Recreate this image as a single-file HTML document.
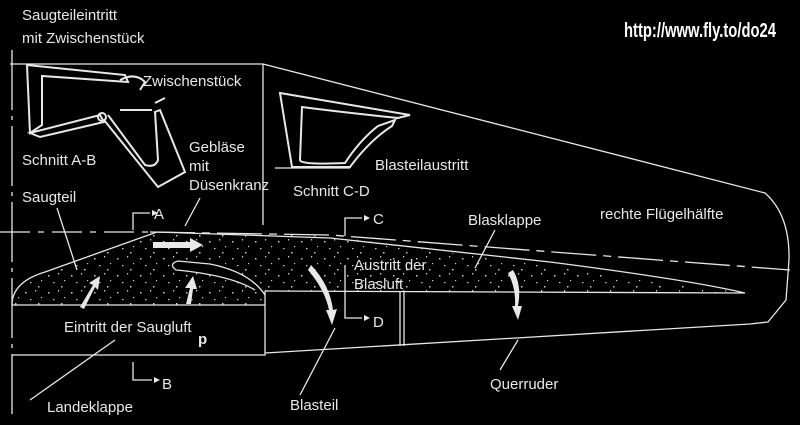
<!DOCTYPE html>
<html><head><meta charset="utf-8"><style>
html,body{margin:0;padding:0;background:#000;width:800px;height:425px;overflow:hidden}
svg{display:block}
text{font-family:"Liberation Sans",sans-serif;fill:#e8e8e8;font-size:15px}
</style></head><body>
<svg width="800" height="425" viewBox="0 0 800 425" xmlns="http://www.w3.org/2000/svg">
<defs>
<pattern id="sp" width="23" height="17" patternUnits="userSpaceOnUse">
<rect x="2" y="3" width="1.5" height="1.5" fill="#ccc"/><rect x="12" y="1" width="1.2" height="1.5" fill="#ccc"/>
<rect x="7" y="10" width="1.5" height="1.2" fill="#ccc"/><rect x="18" y="8" width="1.2" height="1.2" fill="#ccc"/>
<rect x="15" y="14" width="1.5" height="1.5" fill="#ccc"/>
</pattern>
</defs>
<g stroke="#e8e8e8" fill="none" stroke-width="1.3">
<line x1="12" y1="50" x2="12" y2="420" stroke-dasharray="60 6 4 6"/>
<line x1="10" y1="64" x2="263" y2="64"/>
<line x1="263" y1="64" x2="263" y2="225"/>
<path d="M263 64 L765 193 Q790 215 789 260 L786 300 L768 322 L750 324 L265 353"/>
<path d="M0 232 L150 232" stroke-dasharray="30 8 6 8"/>
<path d="M150 232 L330 235 L790 270" stroke-dasharray="45 7 8 7"/>
<path d="M12 305 Q12 282 45 272 L157 232 L330 236 L745 293 L265 291 L265 305 Z" fill="url(#sp)" stroke="none"/>
<path d="M12 305 Q12 282 45 272 L157 232"/>
<path d="M157 232 L330 238 L550 262 Q690 280 745 293 L265 291"/>
<path d="M12 305 L265 305"/>
<path d="M265 295 Q250 272 210 264 L178 261 Q168 264 176 270 Q230 275 255 290" fill="#000"/>
<path d="M12 355 L265 355 L265 291"/>
<line x1="400" y1="291" x2="400" y2="346"/>
<line x1="404" y1="291" x2="404" y2="346"/>
<g stroke-width="2">
<path d="M27 65 L125 75 L128 82 L42 76 L42 125 L30 133 Z"/>
<path d="M30 133 L100 115 L104 122 L40 137 Z"/>
<circle cx="102" cy="117" r="4"/>
<path d="M104 120 L158 187 L185 172 L160 110 L155 112 L158 160 Q155 168 145 165 L108 115"/>
<path d="M120 80 Q135 72 145 82 L140 90 M155 103 L165 98 M120 110 L152 110"/>
</g>
<g stroke-width="2">
<path d="M280 93 L410 115 L398 118 Q340 112 302 107 L300 160 Q300 165 345 163 Q360 140 378 126 L395 120 L392 126 Q370 140 350 167 L292 167 Z"/>
</g>
<line x1="275" y1="168" x2="350" y2="168"/>
<path d="M57 208 L77 270 M200 198 L185 226 M115 340 L30 400 M335 328 L300 395 M475 268 L495 230 M518 340 L500 370"/>
<path d="M133 230 L133 213 L150 213 M345 236 L345 218 L362 218 M345 265 L345 318 L362 318 M133 362 L133 380 L152 380"/>
</g>
<g fill="#e8e8e8">
<path d="M152 210 L158 213 L152 216Z M364 215 L370 218 L364 221Z M364 315 L370 318 L364 321Z M154 377 L160 380 L154 383Z"/>
<path d="M153 242 L190 242 L190 238 L203 245 L190 252 L190 248 L153 248Z"/>
<path d="M80 307 L93 285 L89 283 L100 276 L98 290 L95 287 L84 309Z"/>
<path d="M186 304 L190 288 L185 288 L193 276 L197 289 L193 289 L191 304Z"/>
<path d="M311 265 Q330 285 333 310 L337 309 L332 325 L326 310 L329 310 Q325 290 308 270Z"/>
<path d="M513 270 Q522 285 518 306 L522 306 L518 320 L512 306 L515 306 Q516 288 508 273Z"/>
</g>
<text x="22" y="20">Saugteileintritt</text>
<text x="22" y="43">mit Zwischenstück</text>
<text x="624" y="37" style="font-weight:bold;font-size:20px;fill:#fff" transform="translate(624 0) scale(0.74 1) translate(-624 0)">http://www.fly.to/do24</text>
<text x="143" y="86" font-size="16">Zwischenstück</text>
<text x="189" y="152" font-size="16">Gebläse</text>
<text x="189" y="171" font-size="16">mit</text>
<text x="189" y="190" font-size="16">Düsenkranz</text>
<text x="22" y="165" font-size="16">Schnitt A-B</text>
<text x="22" y="202" font-size="16">Saugteil</text>
<text x="154" y="219" font-size="16">A</text>
<text x="293" y="196" font-size="16">Schnitt C-D</text>
<text x="375" y="170">Blasteilaustritt</text>
<text x="373" y="224" font-size="16">C</text>
<text x="468" y="225" font-size="16">Blasklappe</text>
<text x="600" y="219" font-size="16">rechte Flügelhälfte</text>
<text x="354" y="270" font-size="16">Austritt der</text>
<text x="354" y="289" font-size="16">Blasluft</text>
<text x="373" y="327" font-size="16">D</text>
<text x="64" y="332" font-size="16">Eintritt der Saugluft</text>
<text x="198" y="344" font-size="10" font-weight="bold">p</text>
<text x="162" y="389" font-size="16">B</text>
<text x="47" y="412" font-size="16">Landeklappe</text>
<text x="290" y="410" font-size="16">Blasteil</text>
<text x="490" y="389" font-size="16">Querruder</text>
</svg>
</body></html>
